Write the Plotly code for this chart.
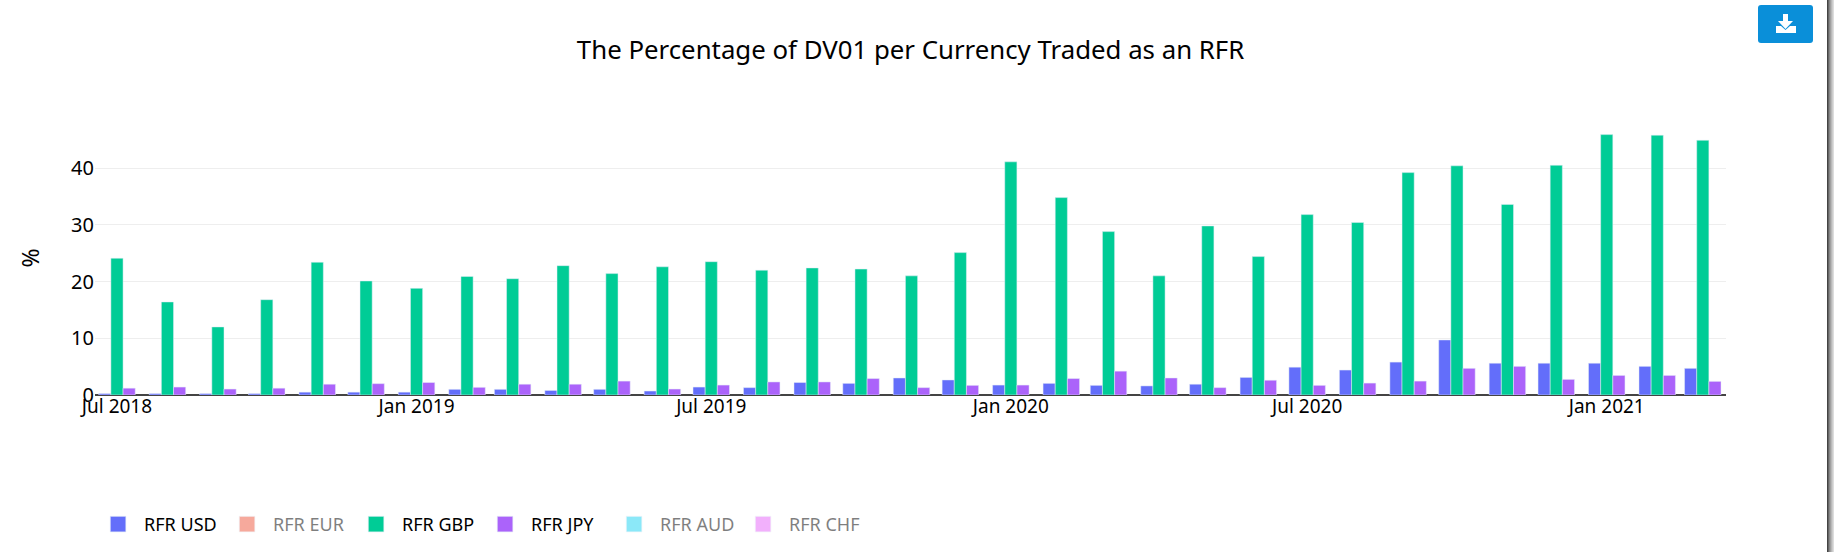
import plotly.graph_objects as go

months = ["2018-07-01","2018-08-01","2018-09-01","2018-10-01","2018-11-01","2018-12-01",
          "2019-01-01","2019-02-01","2019-03-01","2019-04-01","2019-05-01","2019-06-01",
          "2019-07-01","2019-08-01","2019-09-01","2019-10-01","2019-11-01","2019-12-01",
          "2020-01-01","2020-02-01","2020-03-01","2020-04-01","2020-05-01","2020-06-01",
          "2020-07-01","2020-08-01","2020-09-01","2020-10-01","2020-11-01","2020-12-01",
          "2021-01-01","2021-02-01","2021-03-01"]
rfr_usd = [0.25,0.25,0.25,0.25,0.5,0.5,0.5,1.0,1.0,0.8,1.0,0.7,1.4,1.3,2.2,2.05,3.0,2.65,
           1.75,2.05,1.7,1.6,1.9,3.1,4.9,4.4,5.8,9.7,5.6,5.6,5.6,5.05,4.7]
rfr_gbp = [24.1,16.4,12.0,16.8,23.4,20.1,18.8,20.9,20.5,22.8,21.4,22.6,23.5,22.0,22.4,22.2,21.0,25.1,
           41.1,34.8,28.8,21.0,29.8,24.4,31.8,30.4,39.2,40.4,33.6,40.5,45.9,45.8,44.9]
rfr_jpy = [1.2,1.4,1.05,1.2,1.9,2.0,2.2,1.35,1.9,1.9,2.45,1.05,1.75,2.3,2.3,2.9,1.3,1.7,
           1.75,2.9,4.2,3.0,1.3,2.6,1.7,2.1,2.45,4.7,5.05,2.75,3.45,3.45,2.4]
rfr_eur = [0.0]*len(months)
rfr_aud = [0.0]*len(months)
rfr_chf = [0.0]*len(months)

FONT = "Noto Sans"
L, R, T, B = 95, 1726, 121, 395
W, H = 1834, 552
def px(x): return (x - L) / (R - L)
def py(y): return (B - y) / (B - T)

fig = go.Figure()
series = [("RFR USD", rfr_usd, "#636efa", True),
          ("RFR EUR", rfr_eur, "#EF553B", "legendonly"),
          ("RFR GBP", rfr_gbp, "#00cc96", True),
          ("RFR JPY", rfr_jpy, "#ab63fa", True),
          ("RFR AUD", rfr_aud, "#19d3f3", "legendonly"),
          ("RFR CHF", rfr_chf, "#e763fa", "legendonly")]
for name, vals, col, vis in series:
    fig.add_trace(go.Bar(x=months, y=vals, name=name, visible=vis,
                         marker=dict(color=col, line=dict(color="#E5ECF6", width=0.5))))

shapes = [
    dict(type="path", xref="paper", yref="paper", line=dict(width=0), fillcolor="#0a8fd9", layer="above",
         path=f"M {px(1761)} {py(5)} L {px(1810)} {py(5)} Q {px(1813)} {py(5)} {px(1813)} {py(8)} "
              f"L {px(1813)} {py(40)} Q {px(1813)} {py(43)} {px(1810)} {py(43)} L {px(1761)} {py(43)} "
              f"Q {px(1758)} {py(43)} {px(1758)} {py(40)} L {px(1758)} {py(8)} Q {px(1758)} {py(5)} {px(1761)} {py(5)} Z"),
    dict(type="path", xref="paper", yref="paper", line=dict(width=0), fillcolor="white", layer="above",
         path=f"M {px(1783)} {py(14)} L {px(1788)} {py(14)} L {px(1788)} {py(21)} L {px(1793)} {py(21)} "
              f"L {px(1785.5)} {py(29)} L {px(1778)} {py(21)} L {px(1783)} {py(21)} Z"),
    dict(type="path", xref="paper", yref="paper", line=dict(width=0), fillcolor="white", layer="above",
         path=f"M {px(1776)} {py(26)} L {px(1781)} {py(26)} L {px(1785.5)} {py(30)} L {px(1790)} {py(26)} "
              f"L {px(1796)} {py(26)} L {px(1796)} {py(33)} L {px(1776)} {py(33)} Z"),
]
# window-edge shadow at the right of the screenshot
for i, c in enumerate(["#444444","#666666","#888888","#a0a0a0","#b8b8b8","#cccccc","#dddddd"]):
    shapes.append(dict(type="rect", xref="paper", yref="paper", layer="above", line=dict(width=0), fillcolor=c,
                       x0=px(1827 + i), x1=px(1828 + i), y0=py(0), y1=py(552)))

fig.update_layout(
    width=W, height=H, autosize=False,
    paper_bgcolor="white", plot_bgcolor="white",
    margin=dict(l=L, r=W - R, t=T, b=H - B, pad=0),
    font=dict(family=FONT, size=18, color="#000000"),
    title=dict(text="The Percentage of DV01 per Currency Traded as an RFR",
               x=0.4965, xanchor="center", y=0.91, yanchor="middle",
               font=dict(size=25.8, family=FONT, color="#000")),
    barmode="group", bargap=0.2, bargroupgap=0,
    showlegend=True,
    legend=dict(orientation="h", xref="container", yref="container", x=0.0502, xanchor="left",
                y=0.0835, yanchor="top",
                entrywidth=72, entrywidthmode="pixels", itemwidth=42,
                font=dict(size=18, family=FONT, color="#000")),
    xaxis=dict(type="date", range=["2018-06-17 12:00","2021-03-15 06:00"],
               tickvals=["2018-07-01","2019-01-01","2019-07-01","2020-01-01","2020-07-01","2021-01-01"],
               ticktext=["Jul 2018","Jan 2019","Jul 2019","Jan 2020","Jul 2020","Jan 2021"],
               showgrid=False, showline=False, zeroline=False, ticks="", tickfont=dict(size=19),
               ticklabelstandoff=-2),
    yaxis=dict(range=[0, 48.3], tickvals=[0,10,20,30,40], gridcolor="#eeeeee", gridwidth=1,
               zeroline=True, zerolinecolor="#444444", zerolinewidth=2,
               ticks="", tickfont=dict(size=20),
               title=dict(text="%", font=dict(size=23), standoff=25)),
    shapes=shapes,
)
post = """
document.body.style.margin='0';
document.querySelectorAll('.legendpoints path').forEach(function(p){
  p.setAttribute('transform',(p.getAttribute('transform')||'')+' scale(1.3)');
});
"""
fig.write_html("out.html", config={"displayModeBar": False}, post_script=post)
